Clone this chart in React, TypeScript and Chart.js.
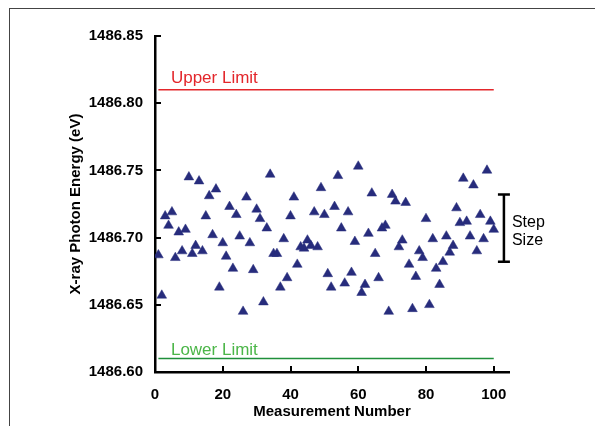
import React, { useEffect, useRef } from 'react';
import { Chart, registerables } from 'chart.js';

Chart.register(...registerables);

const measurementNumbers = [
  1, 2, 3, 4, 5, 6, 7, 8, 9, 10,
  11, 12, 13, 14, 15, 16, 17, 18, 19, 20,
  21, 22, 23, 24, 25, 26, 27, 28, 29, 30,
  31, 32, 33, 34, 35, 36, 37, 38, 39, 40,
  41, 42, 43, 44, 45, 46, 47, 48, 49, 50,
  51, 52, 53, 54, 55, 56, 57, 58, 59, 60,
  61, 62, 63, 64, 65, 66, 67, 68, 69, 70,
  71, 72, 73, 74, 75, 76, 77, 78, 79, 80,
  81, 82, 83, 84, 85, 86, 87, 88, 89, 90,
  91, 92, 93, 94, 95, 96, 97, 98, 99, 100,
];

const photonEnergies = [
  1486.687, 1486.657, 1486.716, 1486.709, 1486.719, 1486.685, 1486.704, 1486.690, 1486.706, 1486.745,
  1486.688, 1486.694, 1486.742, 1486.690, 1486.716, 1486.731, 1486.702, 1486.736, 1486.663, 1486.696,
  1486.686, 1486.723, 1486.677, 1486.717, 1486.701, 1486.645, 1486.730, 1486.696, 1486.676, 1486.721,
  1486.714, 1486.652, 1486.707, 1486.747, 1486.688, 1486.688, 1486.663, 1486.699, 1486.670, 1486.716,
  1486.730, 1486.680, 1486.693, 1486.692, 1486.698, 1486.694, 1486.719, 1486.693, 1486.737, 1486.717,
  1486.673, 1486.663, 1486.723, 1486.746, 1486.707, 1486.666, 1486.719, 1486.674, 1486.697, 1486.753,
  1486.659, 1486.665, 1486.703, 1486.733, 1486.688, 1486.670, 1486.707, 1486.709, 1486.645, 1486.732,
  1486.727, 1486.693, 1486.698, 1486.726, 1486.680, 1486.647, 1486.671, 1486.690, 1486.685, 1486.714,
  1486.650, 1486.699, 1486.677, 1486.665, 1486.682, 1486.701, 1486.689, 1486.694, 1486.722, 1486.711,
  1486.744, 1486.712, 1486.701, 1486.739, 1486.690, 1486.717, 1486.699, 1486.750, 1486.712, 1486.706,
];

const upperLimit = 1486.81;
const lowerLimit = 1486.61;
const limitStart = 1;
const limitEnd = 100;
const limitLabels = ['Upper Limit', 'Lower Limit'];
const limitLabelX = 4.7;

const stepBarX = 103;
const stepBarLow = 1486.682;
const stepBarHigh = 1486.732;
const stepLabels = ['Step', 'Size'];

const xTicks = [0, 20, 40, 60, 80, 100];
const yTicks = [1486.6, 1486.65, 1486.7, 1486.75, 1486.8, 1486.85];
const xMin = 0;
const xMax = 104.5;
const yMin = 1486.6;
const yMax = 1486.85;

const FONT = '"Liberation Sans", Arial, Helvetica, sans-serif';

const annotatePlugin = {
  id: 'annotate',
  afterDraw(chart: any) {
    const { ctx } = chart;
    const x = chart.scales.x;
    const y = chart.scales.y;
    ctx.save();
    // inward tick marks
    ctx.strokeStyle = '#000';
    ctx.lineWidth = 2;
    y.ticks.forEach((t: any) => {
      const py = Math.round(y.getPixelForValue(t.value));
      ctx.beginPath();
      ctx.moveTo(x.left, py);
      ctx.lineTo(x.left + 6, py);
      ctx.stroke();
    });
    x.ticks.forEach((t: any) => {
      const px = Math.round(x.getPixelForValue(t.value));
      ctx.beginPath();
      ctx.moveTo(px, y.bottom);
      ctx.lineTo(px, y.bottom - 6);
      ctx.stroke();
    });

    // step size bar
    const bx = x.getPixelForValue(stepBarX);
    const bTop = y.getPixelForValue(stepBarHigh);
    const bBot = y.getPixelForValue(stepBarLow);
    ctx.lineWidth = 2.5;
    ctx.beginPath();
    ctx.moveTo(bx, bTop);
    ctx.lineTo(bx, bBot);
    ctx.moveTo(bx - 6, bTop);
    ctx.lineTo(bx + 6, bTop);
    ctx.moveTo(bx - 6, bBot);
    ctx.lineTo(bx + 6, bBot);
    ctx.stroke();
    const mid = (bTop + bBot) / 2;
    ctx.fillStyle = '#000';
    ctx.font = `16px ${FONT}`;
    ctx.textAlign = 'left';
    ctx.textBaseline = 'alphabetic';
    ctx.fillText(stepLabels[0], bx + 8, mid - 1);
    ctx.fillText(stepLabels[1], bx + 8, mid + 17);

    // limit labels
    ctx.font = `17px ${FONT}`;
    const lx = x.getPixelForValue(limitLabelX);
    ctx.fillStyle = '#e3262b';
    ctx.fillText(limitLabels[0], lx, y.getPixelForValue(upperLimit) - 7);
    ctx.fillStyle = '#4bb648';
    ctx.fillText(limitLabels[1], lx, y.getPixelForValue(lowerLimit) - 4);
    ctx.restore();
  },
};

export default function App() {
  const canvasRef = useRef<HTMLCanvasElement | null>(null);

  useEffect(() => {
    if (!canvasRef.current) return;
    const points = measurementNumbers.map((n, i) => ({ x: n, y: photonEnergies[i] }));
    const chart = new Chart(canvasRef.current, {
      type: 'scatter',
      data: {
        datasets: [
          {
            label: 'Measurements',
            data: points,
            pointStyle: 'triangle',
            pointRadius: 5.6,
            pointHoverRadius: 5.6,
            backgroundColor: '#272c7c',
            borderColor: '#272c7c',
            borderWidth: 0.5,
          },
          {
            label: 'Upper Limit',
            data: [
              { x: limitStart, y: upperLimit },
              { x: limitEnd, y: upperLimit },
            ],
            showLine: true,
            borderColor: '#e3262b',
            borderWidth: 1.6,
            pointRadius: 0,
          },
          {
            label: 'Lower Limit',
            data: [
              { x: limitStart, y: lowerLimit },
              { x: limitEnd, y: lowerLimit },
            ],
            showLine: true,
            borderColor: '#1f8f3a',
            borderWidth: 1.6,
            pointRadius: 0,
          },
        ],
      },
      options: {
        animation: false,
        responsive: false,
        maintainAspectRatio: false,
        layout: { padding: { left: 0, right: 86, top: 36, bottom: 0 } },
        plugins: { legend: { display: false }, tooltip: { enabled: false } },
        scales: {
          x: {
            type: 'linear',
            min: xMin,
            max: xMax,
            afterBuildTicks: (s: any) => {
              s.ticks = xTicks.map((v) => ({ value: v }));
            },
            afterFit: (s: any) => {
              s.height = 54;
            },
            grid: { display: false, drawTicks: false },
            border: { display: true, color: '#000', width: 2.5 },
            ticks: {
              color: '#000',
              padding: 14,
              font: { family: FONT, size: 15, weight: 'bold' },
              callback: (v: any) => String(v),
            },
            title: {
              display: true,
              text: 'Measurement Number',
              color: '#000',
              font: { family: FONT, size: 15, weight: 'bold' },
              padding: { top: 0, bottom: 5 },
            },
          },
          y: {
            type: 'linear',
            min: yMin,
            max: yMax,
            afterBuildTicks: (s: any) => {
              s.ticks = yTicks.map((v) => ({ value: v }));
            },
            afterFit: (s: any) => {
              s.width = 155;
            },
            grid: { display: false, drawTicks: false },
            border: { display: true, color: '#000', width: 2.5 },
            ticks: {
              color: '#000',
              padding: 12,
              font: { family: FONT, size: 15, weight: 'bold' },
              callback: (v: any) => Number(v).toFixed(2),
            },
            title: {
              display: true,
              text: 'X-ray Photon Energy (eV)',
              color: '#000',
              font: { family: FONT, size: 15, weight: 'bold' },
              padding: { top: 67, bottom: 0 },
            },
          },
        },
      },
      plugins: [annotatePlugin],
    } as any);
    return () => chart.destroy();
  }, []);

  return (
    <div style={{ position: 'absolute', left: 0, top: 0, width: 595, height: 426, background: '#fff', overflow: 'hidden' }}>
      <div
        style={{
          position: 'absolute',
          left: 9,
          top: 8,
          right: -2,
          bottom: -2,
          borderTop: '1.5px solid #444',
          borderLeft: '1.5px solid #444',
        }}
      />
      <canvas ref={canvasRef} width={595} height={426} style={{ position: 'absolute', left: 0, top: 0, display: 'block' }} />
    </div>
  );
}
